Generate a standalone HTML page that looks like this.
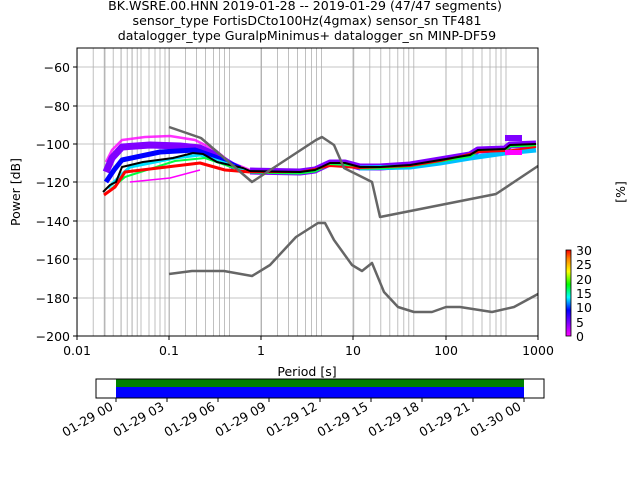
<!DOCTYPE html><html><head><style>body{margin:0;background:#fff}svg{display:block;font-family:"DejaVu Sans","Liberation Sans",sans-serif}</style></head><body>
<svg width="640" height="480" viewBox="0 0 640 480">
<g font-size="12.6" text-anchor="middle" fill="#000">
<text x="305" y="10">BK.WSRE.00.HNN   2019-01-28 -- 2019-01-29  (47/47 segments)</text>
<text x="307" y="25">sensor_type FortisDCto100Hz(4gmax) sensor_sn TF481</text>
<text x="307" y="40">datalogger_type GuralpMinimus+ datalogger_sn MINP-DF59</text>
</g>
<g stroke="#b0b0b0" stroke-width="0.8">
<line x1="77" y1="67" x2="538" y2="67"/><line x1="77" y1="106" x2="538" y2="106"/><line x1="77" y1="144" x2="538" y2="144"/><line x1="77" y1="182" x2="538" y2="182"/><line x1="77" y1="221" x2="538" y2="221"/><line x1="77" y1="259" x2="538" y2="259"/><line x1="77" y1="298" x2="538" y2="298"/>
<path id="dec" d="M105 48V336M121 48V336M132 48V336M141 48V336M149 48V336M155 48V336M160 48V336M165 48V336"/>
<use href="#dec" x="-27.8"/><use href="#dec" x="64.4"/><use href="#dec" x="156.6"/><use href="#dec" x="248.8"/><use href="#dec" x="341"/>
<line x1="169" y1="48" x2="169" y2="336"/><line x1="261" y1="48" x2="261" y2="336"/><line x1="353" y1="48" x2="353" y2="336"/><line x1="446" y1="48" x2="446" y2="336"/>
</g>
<g fill="none" stroke-linejoin="round">
<path d="M106 162 L112 150 L122 140 L145 137 L170 136 L195 140 L215 150 L230 162 L250 170" stroke="#ff00ff" stroke-width="2.5" opacity="0.8"/>
<path d="M106 172 L112 158 L122 147 L150 145 L180 146 L200 148 L215 155 L235 167" stroke="#8000ff" stroke-width="7"/>
<path d="M106 182 L114 170 L122 160 L160 152 L195 150 L215 157 L240 168" stroke="#0000ff" stroke-width="5"/>
<path d="M108 188 L120 176 L130 167 L175 158 L200 155 L225 163 L245 170" stroke="#00e0ff" stroke-width="3"/>
<path d="M110 190 L125 177 L175 161 L205 158 L240 170" stroke="#00ff40" stroke-width="2"/>
<path d="M104 195 L115 187 L125 172 L175 166 L200 163 L225 170 L250 172" stroke="#ff0000" stroke-width="3"/>
<path d="M130 182 L170 178 L200 170" stroke="#ff00ff" stroke-width="1.5"/>
<path d="M250 171 L300 172 L315 170 L330 163 L345 163 L360 167 L380 167 L410 165 L440 160 L470 155 L478 150 L505 149 L510 145 L536 144" stroke="#8000ff" stroke-width="7"/>
<path d="M360 168 L410 167 L440 163 L470 158 L505 153 L536 150" stroke="#00c0ff" stroke-width="5"/>
<path d="M250 172 L300 173 L315 171 L330 164 L345 164 L360 168 L380 168 L410 166 L440 161 L470 156 L478 151 L505 150 L510 146 L536 145" stroke="#00ff40" stroke-width="3"/>
<path d="M250 172 L300 172 L330 166 L360 168 L410 166 L440 161 L478 152 L505 151 L536 147" stroke="#ff0000" stroke-width="2"/>
<rect x="505" y="135" width="17" height="6" fill="#8000ff" stroke="none"/>
<rect x="505" y="150" width="17" height="5" fill="#ff00ff" stroke="none"/>
<path d="M103 192 L110 185 L116 182 L122 167 L143 162 L173 158 L193 153 L203 154 L217 162 L243 168 L250 171 L300 172 L315 170 L330 163 L345 163 L360 167 L380 167 L410 165 L440 160 L470 155 L478 150 L505 149 L510 145 L536 144" stroke="#000" stroke-width="2"/>
<path d="M169 127 L201 138 L252 182 L316 140 L322 137 L334 145 L344 168 L372 182 L380 217 L496 194 L538 166" stroke="#666" stroke-width="2.5"/>
<path d="M169 274 L192 271 L224 271 L252 276 L270 265 L296 237 L318 223 L325 223 L334 240 L352 265 L362 271 L372 263 L384 292 L398 307 L414 312 L432 312 L446 307 L460 307 L492 312 L514 307 L538 294" stroke="#666" stroke-width="2.5"/>
</g>
<rect x="77" y="48" width="461" height="288" fill="none" stroke="#000" stroke-width="1"/>
<g stroke="#000"><path d="M77 336v4M169 336v4M261 336v4M353 336v4M446 336v4M538 336v4M73 67h4M73 106h4M73 144h4M73 182h4M73 221h4M73 259h4M73 298h4M73 336h4"/></g>
<g font-size="12.5" text-anchor="end"><text x="70" y="72">−60</text><text x="70" y="111">−80</text><text x="70" y="149">−100</text><text x="70" y="187">−120</text><text x="70" y="226">−140</text><text x="70" y="264">−160</text><text x="70" y="303">−180</text><text x="70" y="341">−200</text></g>
<g font-size="12.5" text-anchor="middle"><text x="77" y="355">0.01</text><text x="169" y="355">0.1</text><text x="261" y="355">1</text><text x="353" y="355">10</text><text x="446" y="355">100</text><text x="538" y="355">1000</text><text x="307" y="376">Period [s]</text></g>
<text transform="translate(20,192) rotate(-90)" font-size="12.5" text-anchor="middle">Power [dB]</text>
<text transform="translate(625,192) rotate(-90)" font-size="12.5" text-anchor="middle">[%]</text>
<defs><linearGradient id="cb" x1="0" y1="1" x2="0" y2="0"><stop offset="0" stop-color="#ff00ff"/><stop offset="0.15" stop-color="#8000ff"/><stop offset="0.3" stop-color="#0000ff"/><stop offset="0.45" stop-color="#00ffff"/><stop offset="0.6" stop-color="#00ff00"/><stop offset="0.75" stop-color="#ffff00"/><stop offset="0.9" stop-color="#ff8000"/><stop offset="1" stop-color="#ff0000"/></linearGradient></defs>
<rect x="566" y="250" width="5" height="86" fill="url(#cb)" stroke="#000" stroke-width="0.8"/>
<g font-size="12.5"><text x="576" y="341">0</text><text x="576" y="327">5</text><text x="576" y="312">10</text><text x="576" y="298">15</text><text x="576" y="284">20</text><text x="576" y="269">25</text><text x="576" y="255">30</text></g>
<rect x="116" y="379" width="408" height="8" fill="#008000"/><rect x="116" y="387" width="408" height="11" fill="#0000ff"/>
<rect x="96" y="379" width="448" height="19" fill="none" stroke="#000"/>
<g stroke="#000"><path d="M116 398v4M167 398v4M218 398v4M269 398v4M320 398v4M371 398v4M422 398v4M473 398v4M524 398v4"/></g>
<g font-size="12.5" text-anchor="end">
<text transform="translate(114,409) rotate(-30)">01-29 00</text><text transform="translate(165,409) rotate(-30)">01-29 03</text><text transform="translate(216,409) rotate(-30)">01-29 06</text><text transform="translate(267,409) rotate(-30)">01-29 09</text><text transform="translate(318,409) rotate(-30)">01-29 12</text><text transform="translate(369,409) rotate(-30)">01-29 15</text><text transform="translate(420,409) rotate(-30)">01-29 18</text><text transform="translate(471,409) rotate(-30)">01-29 21</text><text transform="translate(522,409) rotate(-30)">01-30 00</text>
</g>
</svg></body></html>
